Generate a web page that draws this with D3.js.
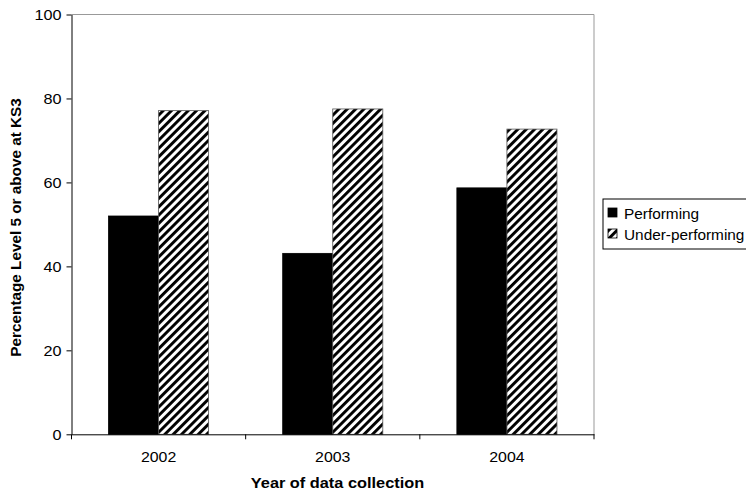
<!DOCTYPE html>
<html><head><meta charset="utf-8">
<script src="https://cdn.jsdelivr.net/npm/d3@7"></script>
<style>
html,body{margin:0;padding:0;background:#fff;}
text{font-family:"Liberation Sans",Arial,sans-serif;}
</style></head>
<body>
<svg id="c" width="746" height="493"></svg>
<script>
const years = ["2002", "2003", "2004"];
const seriesNames = ["Performing", "Under-performing"];
const performing = [52.0, 43.1, 58.7];
const underPerforming = [77.1, 77.5, 72.7];
const yTicks = [0, 20, 40, 60, 80, 100];

const svg = d3.select("#c");
const L = 71.5, R = 594, T = 14.5, B = 434.3;

const x = d3.scaleBand().domain(years).range([L, R]).paddingInner(0).paddingOuter(0);
const xs = d3.scaleBand().domain(seriesNames).range([0, x.bandwidth()]).paddingInner(0).paddingOuter(0.74);
const y = d3.scaleLinear().domain([0, 100]).range([B, T]);

const defs = svg.append("defs");
const pat = defs.append("pattern").attr("id", "hatch").attr("patternUnits", "userSpaceOnUse")
  .attr("width", 5.9).attr("height", 5.9).attr("patternTransform", "rotate(45)");
pat.append("rect").attr("width", 5.9).attr("height", 5.9).attr("fill", "#fff");
pat.append("rect").attr("width", 2.9).attr("height", 5.9).attr("fill", "#000");

const data = years.map((yr, i) => ({year: yr, vals: [
  {s: seriesNames[0], v: performing[i]},
  {s: seriesNames[1], v: underPerforming[i]}
]}));

// plot frame top/right
svg.append("line").attr("x1", L).attr("x2", R).attr("y1", T).attr("y2", T).attr("stroke", "#999").attr("stroke-width", 1);
svg.append("line").attr("x1", R).attr("x2", R).attr("y1", T).attr("y2", B).attr("stroke", "#999").attr("stroke-width", 1);

const g = svg.append("g");
g.selectAll("g.grp").data(data).join("g").attr("class", "grp")
  .attr("transform", d => `translate(${x(d.year)},0)`)
  .selectAll("rect").data(d => d.vals).join("rect")
  .attr("x", d => xs(d.s)).attr("width", xs.bandwidth())
  .attr("y", d => y(d.v)).attr("height", d => y(0) - y(d.v))
  .attr("fill", d => d.s === seriesNames[0] ? "#000" : "url(#hatch)")
  .attr("stroke", d => d.s === seriesNames[0] ? "#000" : "#555")
  .attr("stroke-width", 0.8);

function stretch(sel, sx) {
  sel.each(function() {
    const t = d3.select(this);
    const ax = +t.attr("x") || 0;
    t.attr("transform", `translate(${ax},0) scale(${sx},1) translate(${-ax},0)`);
  });
}

// y axis
const yAxis = svg.append("g").attr("transform", `translate(${L},0)`)
  .call(d3.axisLeft(y).tickValues(yTicks).tickSize(5).tickPadding(5).tickSizeOuter(0));
yAxis.select(".domain").attr("stroke", "#000");
yAxis.selectAll("text").attr("font-size", "15px").attr("fill", "#000");
stretch(yAxis.selectAll("text"), 1.08);

// x axis
const xAxis = svg.append("g").attr("transform", `translate(0,${B})`)
  .call(d3.axisBottom(x).tickSize(0).tickPadding(17).tickSizeOuter(0));
xAxis.select(".domain").attr("stroke", "#000");
xAxis.selectAll("text").attr("font-size", "15px").attr("fill", "#000");
stretch(xAxis.selectAll("text"), 1.06);
// category boundary ticks
const bounds = [L].concat(years.map(yr => x(yr) + x.bandwidth()));
svg.append("g").selectAll("line").data(bounds).join("line")
  .attr("x1", d => d).attr("x2", d => d).attr("y1", B).attr("y2", B + 5)
  .attr("stroke", "#000");

// axis titles
const xt = svg.append("text").attr("x", 337.5).attr("y", 488).attr("text-anchor", "middle")
  .attr("font-size", "15px").attr("font-weight", "bold").text("Year of data collection");
stretch(xt, 1.09);
svg.append("text").attr("transform", `translate(21,${(T + B) / 2 + 3}) rotate(-90)`)
  .attr("text-anchor", "middle").attr("font-size", "15.3px").attr("font-weight", "bold")
  .text("Percentage Level 5 or above at KS3");

// legend
const lg = svg.append("g");
lg.append("rect").attr("x", 603).attr("y", 199).attr("width", 160).attr("height", 50)
  .attr("fill", "#fff").attr("stroke", "#000").attr("stroke-width", 1);
const items = lg.selectAll("g.it").data(seriesNames).join("g").attr("class", "it")
  .attr("transform", (d, i) => `translate(608,${208 + i * 21})`);
items.append("rect").attr("width", 9).attr("height", 9)
  .attr("fill", (d, i) => i === 0 ? "#000" : "url(#hatch)").attr("stroke", "#000").attr("stroke-width", 0.8);
const lt = items.append("text").attr("x", 16).attr("y", 10.5).attr("font-size", "14.5px").text(d => d);
stretch(lt, 1.06);
</script>
</body></html>
